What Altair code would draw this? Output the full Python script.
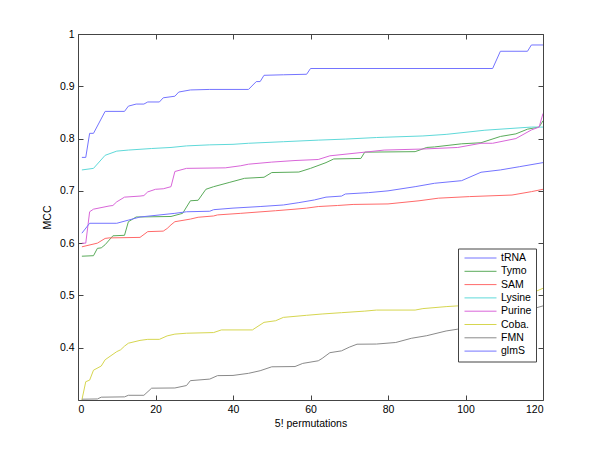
import altair as alt
import pandas as pd

names = ["tRNA", "Tymo", "SAM", "Lysine", "Purine", "Coba.", "FMN", "glmS"]
colors = ["#7474ff", "#5aab5a", "#ff6a6a", "#5fd9d9", "#d966d9", "#d6d650", "#8a8a8a", "#7474ff"]

trna_x = [1, 2, 3, 4, 7, 12, 13, 15, 17, 18, 21, 22, 25, 26, 29, 34, 44, 46, 47, 48, 53, 59, 60, 107, 109, 116, 117, 120]
trna_y = [0.764, 0.764, 0.81, 0.81, 0.852, 0.852, 0.862, 0.866, 0.866, 0.870, 0.870, 0.878, 0.881, 0.889, 0.893, 0.894,
          0.894, 0.909, 0.909, 0.921, 0.922, 0.923, 0.934, 0.934, 0.967, 0.967, 0.979, 0.979]

tymo_x = [1, 4, 5, 6, 7, 9, 12, 13, 15, 24, 27, 29, 31, 33, 35, 39, 43, 48, 50, 57, 60, 64, 66, 73, 74, 87, 90, 92,
          99, 104, 109, 113, 116, 119, 120]
tymo_y = [0.575, 0.576, 0.59, 0.591, 0.597, 0.614, 0.615, 0.641, 0.65, 0.651, 0.657, 0.681, 0.682, 0.703, 0.708, 0.716,
          0.724, 0.726, 0.735, 0.736, 0.743, 0.754, 0.761, 0.762, 0.774, 0.775, 0.783, 0.784, 0.79, 0.792, 0.804, 0.809,
          0.818, 0.822, 0.834]

sam_x = [1, 5, 7, 8, 16, 18, 22, 23, 24, 25, 29, 31, 35, 36, 42, 51, 56, 59, 62, 67, 71, 80, 88, 93, 101, 112, 117, 120]
sam_y = [0.593, 0.60, 0.609, 0.61, 0.611, 0.622, 0.623, 0.628, 0.635, 0.641, 0.646, 0.6495, 0.652, 0.654, 0.657, 0.662,
         0.665, 0.667, 0.67, 0.672, 0.674, 0.675, 0.681, 0.686, 0.689, 0.692, 0.6985, 0.703]

lys_x = [1, 4, 7, 10, 13, 19, 24, 28, 34, 40, 44, 53, 62, 69, 77, 79, 89, 95, 105, 117, 120]
lys_y = [0.74, 0.743, 0.768, 0.776, 0.778, 0.781, 0.783, 0.786, 0.788, 0.789, 0.791, 0.794, 0.797, 0.799, 0.802,
         0.8025, 0.805, 0.808, 0.816, 0.822, 0.822]

pur_x = [1, 2, 3, 4, 8, 9, 10, 12, 16, 17, 18, 20, 22, 24, 25, 28, 38, 42, 44, 50, 56, 62, 65, 74, 79, 89, 98, 104,
         107, 113, 117, 119, 120]
pur_y = [0.60, 0.60, 0.66, 0.665, 0.671, 0.672, 0.679, 0.688, 0.69, 0.691, 0.698, 0.703, 0.704, 0.708, 0.737, 0.743,
         0.744, 0.748, 0.751, 0.755, 0.758, 0.76, 0.767, 0.774, 0.778, 0.78, 0.783, 0.791, 0.791, 0.80, 0.8165, 0.822,
         0.848]

coba_x = [1, 2, 3, 4, 6, 7, 10, 11, 12, 13, 16, 18, 21, 23, 25, 28, 35, 37, 45, 48, 51, 53, 59, 63, 68, 74, 77, 87,
          89, 95, 98, 105, 112, 118, 120]
coba_y = [0.30, 0.335, 0.338, 0.357, 0.365, 0.377, 0.3925, 0.396, 0.403, 0.4086, 0.414, 0.416, 0.416, 0.4226, 0.426,
          0.4277, 0.429, 0.434, 0.434, 0.4485, 0.4516, 0.458, 0.462, 0.4645, 0.467, 0.47, 0.472, 0.472, 0.4748, 0.4786,
          0.48, 0.487, 0.495, 0.5073, 0.5137]

fmn_x = [1, 5, 6, 12, 13, 17, 19, 25, 28, 29, 34, 36, 40, 44, 47, 50, 56, 58, 62, 63, 65, 68, 70, 72, 77, 82, 86, 90,
         95, 98, 105, 112, 117, 120]
fmn_y = [0.3015, 0.302, 0.3054, 0.306, 0.309, 0.309, 0.3226, 0.323, 0.3277, 0.337, 0.34, 0.3466, 0.347, 0.351, 0.356,
         0.3635, 0.364, 0.37, 0.375, 0.3795, 0.3905, 0.394, 0.401, 0.4067, 0.407, 0.41, 0.418, 0.423, 0.432, 0.4355,
         0.445, 0.458, 0.4735, 0.48]

glms_x = [1, 3, 10, 13, 16, 25, 28, 34, 35, 40, 47, 53, 57, 61, 64, 68, 69, 75, 80, 87, 92, 99, 104, 109, 114, 120]
glms_y = [0.619, 0.638, 0.638, 0.644, 0.65, 0.657, 0.66, 0.661, 0.664, 0.667, 0.67, 0.673, 0.6775, 0.6826, 0.688, 0.69,
          0.694, 0.6966, 0.70, 0.708, 0.7145, 0.7195, 0.7356, 0.74, 0.7463, 0.754]

x_ticks = [0, 20, 40, 60, 80, 100, 120]
y_ticks = [0.4, 0.5, 0.6, 0.7, 0.8, 0.9, 1.0]

series = [(trna_x, trna_y), (tymo_x, tymo_y), (sam_x, sam_y), (lys_x, lys_y),
          (pur_x, pur_y), (coba_x, coba_y), (fmn_x, fmn_y), (glms_x, glms_y)]
rows = []
for name, (xs_, ys_) in zip(names, series):
    for a, b in zip(xs_, ys_):
        rows.append({"series": name, "x": a, "y": b})
df = pd.DataFrame(rows)

FONT = "Liberation Sans"
FS = 10.5
AX = "#444444"
W, H = 465, 366

xs = alt.Scale(domain=[0, 120], nice=False, zero=False)
ys = alt.Scale(domain=[0.3, 1.0], nice=False, zero=False)

base = alt.Chart(df)

lines = base.mark_line(strokeWidth=1, clip=True).encode(
    x=alt.X("x:Q", scale=xs, axis=alt.Axis(values=x_ticks, title="5! permutations", tickSize=0, domain=False,
                                           grid=False, labelPadding=4, titlePadding=4, labelFont=FONT,
                                           labelFontSize=FS, titleFont=FONT, titleFontSize=FS,
                                           titleFontWeight="normal", labelColor="black", titleColor="black")),
    y=alt.Y("y:Q", scale=ys, axis=alt.Axis(values=y_ticks, format="~g", title="MCC", tickSize=0, domain=False,
                                           grid=False, labelPadding=4, titlePadding=7, labelFont=FONT,
                                           labelFontSize=FS, titleFont=FONT, titleFontSize=FS,
                                           titleFontWeight="normal", labelColor="black", titleColor="black")),
    color=alt.Color("series:N", sort=names, scale=alt.Scale(domain=names, range=colors),
                    legend=alt.Legend(orient="none", legendX=380, legendY=214.5, title=None, symbolType="stroke",
                                      symbolSize=1024, symbolStrokeWidth=1, clipHeight=11, rowPadding=2.3,
                                      padding=4, symbolOffset=2, labelOffset=4, labelFont=FONT, labelFontSize=FS,
                                      labelColor="black", fillColor="white", strokeColor=AX,
                                      direction="vertical")),
)

def tick_layer(xorient, yorient):
    return base.mark_line(opacity=0).encode(
        x=alt.X("x:Q", scale=xs, axis=alt.Axis(orient=xorient, offset=-H, values=x_ticks, labels=False,
                                               domain=False, grid=False, tickSize=5, tickColor=AX, title=None)),
        y=alt.Y("y:Q", scale=ys, axis=alt.Axis(orient=yorient, offset=-W, values=y_ticks, labels=False,
                                               domain=False, grid=False, tickSize=5, tickColor=AX, title=None)),
        detail="series:N",
    )

ticks_a = tick_layer("top", "right")
ticks_b = tick_layer("bottom", "left")

chart = alt.layer(lines, ticks_a, ticks_b).resolve_axis(x="independent", y="independent").properties(
    width=W, height=H,
    autosize=alt.AutoSizeParams(type="none"),
    padding={"left": 70, "top": 26, "right": 40, "bottom": 42},
    background="white",
).configure_view(stroke=AX, strokeWidth=1)

chart.save("out.html", embed_options={"renderer": "svg", "actions": False})
